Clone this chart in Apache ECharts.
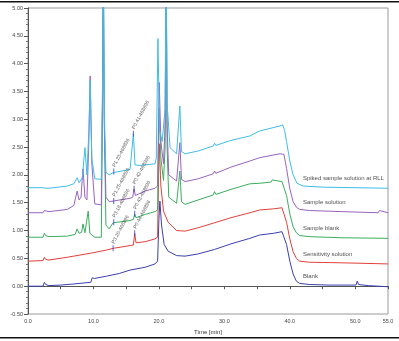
<!DOCTYPE html>
<html><head><meta charset="utf-8">
<script src="https://cdn.jsdelivr.net/npm/echarts@6/dist/echarts.min.js"></script>
<style>html,body{margin:0;padding:0;background:#fff}#c{width:399px;height:341px}</style>
</head><body><div id="c"></div><script>
// Conductivity chromatograms, [time (min), response (µS)]
const blankPts = [[0,0.00],[2.3,0.00],[2.5,0.07],[2.7,0.03],[3.2,0.01],[5,0.02],[7,0.04],[9.6,0.07],[9.8,0.15],[10.2,0.14],[12,0.18],[14,0.23],[15.6,0.29],[17.9,0.34],[19.4,0.40],[19.8,0.45],[20.0,1.2],[20.15,1.53],[20.4,1.1],[20.8,0.75],[21.4,0.63],[22.7,0.55],[24,0.54],[26,0.58],[28.5,0.66],[31,0.76],[33.9,0.86],[35.4,0.92],[37.5,0.95],[38.8,0.98],[39.1,0.96],[39.5,0.75],[40,0.45],[40.5,0.22],[41,0.09],[41.5,0.05],[43,0.03],[46,0.02],[50.1,0.02],[50.3,0.09],[50.5,0.03],[52,0.01],[55,-0.01]];
const sensitivityPts = [[0,0.45],[2.3,0.46],[2.5,0.52],[2.7,0.48],[3.2,0.47],[6,0.52],[9.9,0.60],[12,0.65],[13.0,0.68],[15.6,0.73],[16.1,0.74],[16.3,0.95],[16.5,0.78],[17.9,0.80],[19.4,0.85],[19.8,0.88],[19.95,2.0],[20.05,2.56],[20.3,1.8],[20.7,1.35],[21.4,1.15],[22.7,1.0],[24,0.99],[26,1.05],[28.5,1.14],[31,1.23],[33.9,1.32],[35.4,1.37],[37.5,1.39],[38.8,1.41],[39.1,1.38],[39.5,1.15],[40,0.85],[40.5,0.62],[41,0.50],[41.5,0.45],[43,0.43],[48,0.42],[55,0.40]];
const sampleBlankPts = [[0,0.88],[2.3,0.88],[2.5,0.95],[2.7,0.91],[3.2,0.89],[6,0.90],[7.2,0.93],[7.5,1.03],[7.8,0.95],[8.2,0.97],[8.4,1.12],[8.7,0.96],[9.0,0.95],[9.2,1.35],[9.45,0.95],[10.2,0.88],[11.2,0.88],[11.4,3.5],[11.5,6],[11.65,3],[11.9,1.1],[12.4,1.03],[13.0,1.14],[15.6,1.18],[16.1,1.20],[16.3,1.30],[16.5,1.23],[17.9,1.29],[19.4,1.34],[19.8,1.37],[19.95,2.6],[20.05,3.19],[20.3,2.3],[20.7,1.9],[20.95,2.5],[21.1,6],[21.25,2.5],[21.5,1.6],[22.7,1.49],[23.0,1.5],[23.2,2.07],[23.45,1.52],[24,1.47],[26,1.55],[28.3,1.64],[28.5,1.70],[28.7,1.65],[31,1.74],[33.9,1.84],[35.4,1.85],[37.1,1.87],[37.3,1.91],[37.5,1.88],[38.8,1.88],[39.1,1.85],[39.5,1.63],[40,1.30],[40.5,1.07],[41,0.96],[41.5,0.91],[43,0.89],[48,0.87],[55,0.86]];
const samplePts = [[0,1.32],[2.3,1.32],[2.5,1.36],[2.7,1.34],[3.2,1.34],[6,1.38],[7.0,1.45],[7.2,1.55],[7.5,1.71],[7.8,1.55],[8.1,1.6],[8.4,2.11],[8.7,1.6],[9.0,1.55],[9.3,2.6],[9.5,3.78],[9.75,2.2],[10.2,1.48],[11.2,1.46],[11.4,3.5],[11.5,6],[11.65,3],[11.9,1.6],[12.4,1.52],[13.0,1.53],[15.6,1.58],[16.0,1.60],[16.2,1.75],[16.4,1.63],[17.9,1.71],[19.4,1.76],[19.8,1.80],[19.95,3.0],[20.05,3.66],[20.3,2.6],[20.7,2.2],[20.95,2.9],[21.1,6],[21.25,2.9],[21.5,2.0],[22.7,1.89],[23.0,1.9],[23.2,2.58],[23.45,1.92],[24,1.88],[26,1.93],[28.3,2.02],[28.5,2.07],[28.7,2.03],[31,2.14],[33.9,2.25],[35.4,2.31],[38.5,2.38],[38.8,2.41],[39.1,2.37],[39.5,2.12],[40,1.75],[40.5,1.52],[41,1.42],[41.5,1.38],[43,1.36],[48,1.34],[53.5,1.32],[53.7,1.36],[53.9,1.33],[55,1.32]];
const spikedPts = [[0,1.77],[2.3,1.77],[2.5,1.74],[2.7,1.76],[3.2,1.76],[6,1.80],[7.0,1.84],[7.2,1.88],[7.5,1.95],[7.8,1.86],[8.3,1.95],[8.7,2.49],[9.0,2.0],[9.3,2.8],[9.5,3.70],[9.75,2.3],[10.2,1.93],[11.2,1.92],[11.4,3.8],[11.5,6],[11.65,3.2],[11.9,2.05],[12.4,2.0],[13.0,2.04],[15.6,2.10],[15.9,2.13],[16.1,2.74],[16.35,2.18],[17.1,2.17],[17.9,2.18],[19.4,2.20],[19.6,2.3],[19.85,4.45],[20.1,2.8],[20.5,2.6],[20.95,3.2],[21.1,6],[21.25,3.3],[21.7,2.49],[22.7,2.38],[23.0,2.4],[23.2,3.24],[23.45,2.42],[24,2.38],[26,2.43],[28.3,2.52],[28.5,2.57],[28.7,2.53],[31,2.62],[33.9,2.70],[35.4,2.79],[38.5,2.88],[38.9,2.90],[39.2,2.80],[39.5,2.60],[40.0,2.25],[40.5,2.00],[41.1,1.85],[42.0,1.80],[45,1.78],[55,1.76]];

const traceNames = ['Blank','Sensitivity solution','Sample blank','Sample solution','Spiked sample solution at RLL'];
const traceColors = ['#3b40ae','#e0413c','#3aae5c','#9963bf','#3ebde8'];
const traces = [blankPts, sensitivityPts, sampleBlankPts, samplePts, spikedPts];

// integrated peak annotations: [time, response, text]
const peakTimes  = [13.1, 16.1, 13.1, 16.2, 13.1, 16.3, 13.0, 16.3];
const peakValues = [2.06, 2.74, 1.53, 1.75, 1.15, 1.30, 0.68, 0.95];
const peakTexts  = ['P1.23-468896','P0.41-468896','P1.25-468896','P0.42-468896','P3.18-468896','P0.43-468896','P3.20-468896','P0.44-468896'];

const xTicks = [0,10,20,30,40,50,55];
const nameTime = 42.0;

const chart = echarts.init(document.getElementById('c'));
const fontFam = 'Liberation Sans, Arial, sans-serif';

function valueAt(pts, t) {
  for (const p of pts) if (p[0] >= t) return p[1];
  return pts[pts.length - 1][1];
}

const series = traces.map((pts, i) => ({
  type: 'line', name: traceNames[i], data: pts, showSymbol: false, symbol: 'none',
  lineStyle: { color: traceColors[i], width: 1 }, clip: true, z: 2 + i, animation: false
}));

series.push({
  type: 'scatter', name: 'peaks', z: 10, animation: false,
  data: peakTimes.map((t, i) => [t, peakValues[i], peakTexts[i]]),
  symbol: 'rect', symbolSize: [1, 6],
  itemStyle: { color: '#3344cc' },
  label: { show: true, formatter: p => p.data[2], position: 'top', distance: 2,
    rotate: 62, align: 'left', verticalAlign: 'middle',
    fontSize: 5, color: '#333', fontFamily: fontFam }
});

series.push({
  type: 'scatter', name: 'names', z: 10, animation: false, symbolSize: 0,
  data: traces.map((pts, i) => [nameTime, valueAt(pts, nameTime), traceNames[i]]),
  label: { show: true, formatter: p => p.data[2], position: 'right', distance: 0,
    offset: [0, -8], align: 'left', verticalAlign: 'middle',
    fontSize: 6, color: '#222', fontFamily: fontFam }
});

chart.setOption({
  backgroundColor: '#fff',
  animation: false,
  grid: { left: 28, right: 11, top: 8, bottom: 27, show: true, borderColor: '#999', borderWidth: 1,
    containLabel: false, outerBoundsMode: 'none' },
  xAxis: {
    type: 'value', min: 0, max: 55, interval: 5,
    name: 'Time [min]', nameLocation: 'middle', nameGap: 13,
    nameTextStyle: { fontSize: 6, color: '#333', fontFamily: fontFam },
    axisLine: { lineStyle: { color: '#555' } },
    axisTick: { length: 3, lineStyle: { color: '#555' } },
    axisLabel: { fontSize: 5.5, color: '#444', margin: 4, fontFamily: fontFam, showMaxLabel: true,
      formatter: v => xTicks.includes(v) ? v.toFixed(1) : '' },
    splitLine: { show: false }
  },
  yAxis: {
    type: 'value', min: -0.5, max: 5, interval: 0.5,
    name: 'Response [µS]', nameLocation: 'middle', nameGap: 19, nameRotate: 90,
    nameTextStyle: { fontSize: 6, color: '#333', fontFamily: fontFam },
    axisLine: { show: true, lineStyle: { color: '#555' } },
    axisTick: { show: true, length: 4, lineStyle: { color: '#555' } },
    minorTick: { show: true, splitNumber: 5, length: 2, lineStyle: { color: '#777' } },
    axisLabel: { fontSize: 5.5, color: '#444', margin: 5, fontFamily: fontFam, formatter: v => v.toFixed(2) },
    splitLine: { show: false }
  },
  graphic: [
    { type: 'rect', shape: { x: 0, y: 1, width: 399, height: 1.5 }, style: { fill: '#111' } },
    { type: 'rect', shape: { x: 0, y: 337, width: 399, height: 1.5 }, style: { fill: '#111' } }
  ],
  series: series
});
</script></body></html>
